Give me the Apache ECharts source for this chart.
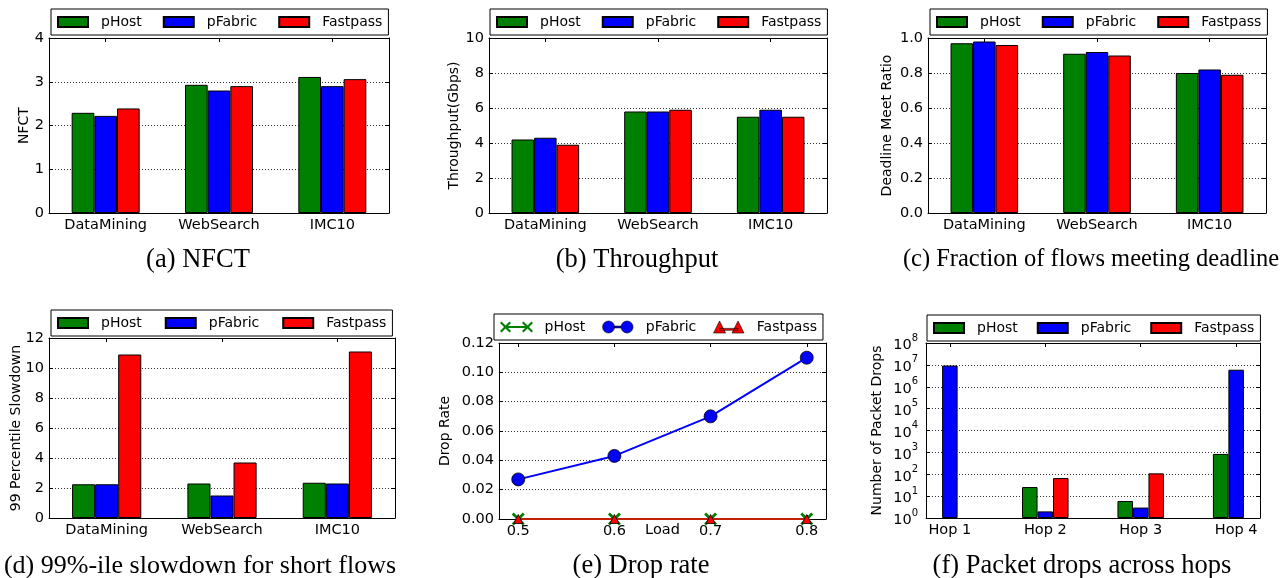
<!DOCTYPE html>
<html>
<head>
<meta charset="utf-8">
<script src="https://cdn.jsdelivr.net/npm/echarts@6/dist/echarts.min.js"></script>
<style>
  html, body { margin: 0; padding: 0; background: #fff; }
  #wrap { position: relative; width: 1283px; height: 578px; }
  .panel { position: absolute; }
</style>
</head>
<body>
<div id="wrap">
  <div class="panel" id="pa" style="left:0;top:0;width:430px;height:290px"></div>
  <div class="panel" id="pb" style="left:430px;top:0;width:430px;height:290px"></div>
  <div class="panel" id="pc" style="left:860px;top:0;width:423px;height:290px"></div>
  <div class="panel" id="pd" style="left:0;top:290px;width:430px;height:288px"></div>
  <div class="panel" id="pe" style="left:430px;top:290px;width:430px;height:288px"></div>
  <div class="panel" id="pf" style="left:860px;top:290px;width:423px;height:288px"></div>
</div>
<script>
const schemes = ['pHost', 'pFabric', 'Fastpass']
const workloads = ['DataMining', 'WebSearch', 'IMC10']

// (a) NFCT
const nfctPHost = [2.29, 2.93, 3.11]
const nfctPFabric = [2.22, 2.80, 2.90]
const nfctFastpass = [2.39, 2.90, 3.06]

// (b) throughput, Gbps
const tputPHost = [4.2, 5.8, 5.5]
const tputPFabric = [4.3, 5.8, 5.9]
const tputFastpass = [3.9, 5.9, 5.5]

// (c) deadline meet ratio
const ddlPHost = [0.97, 0.91, 0.80]
const ddlPFabric = [0.98, 0.92, 0.82]
const ddlFastpass = [0.96, 0.90, 0.79]

// (d) 99th percentile slowdown, short flows
const slowPHost = [2.25, 2.3, 2.35]
const slowPFabric = [2.25, 1.5, 2.3]
const slowFastpass = [10.9, 3.7, 11.1]

// (e) drop rate vs load
const loads = [0.5, 0.6, 0.7, 0.8]
const dropPHost = [0, 0, 0, 0]
const dropPFabric = [0.027, 0.043, 0.07, 0.11]
const dropFastpass = [0, 0, 0, 0]

// (f) packet drops per hop (null -> no bar on the log axis)
const hops = ['Hop 1', 'Hop 2', 'Hop 3', 'Hop 4']
const hopPHost = [null, 26, 6, 850]
const hopPFabric = [9.3e6, 2, 3, 6.0e6]
const hopFastpass = [null, 67, 110, null]

const colors = ['#008000', '#0000ff', '#ff0000']
const FONT = 'DejaVu Sans'
const BLACK = '#000'
const TICK_FS = 14.5

const tickStyle = { show: true, inside: true, length: 4, lineStyle: { color: BLACK } }
const lineBlack = { show: true, onZero: false, lineStyle: { color: BLACK, width: 1 } }
const gridLine = { show: true, lineStyle: { color: '#333', width: 1, type: [1, 2] } }

function legendOpt(left, top, gap, extra) {
  return Object.assign({
    left: left,
    top: top,
    itemGap: gap,
    itemWidth: 30,
    itemHeight: 10,
    icon: 'rect',
    padding: [6, 6],
    borderColor: BLACK,
    borderWidth: 1,
    borderRadius: 0,
    backgroundColor: '#fff',
    selectedMode: false,
    textStyle: { fontFamily: FONT, fontSize: 14, color: BLACK, padding: [0, 0, 0, 8] }
  }, extra || {})
}

function caption(x, y, text, size) {
  return [{
    type: 'text', x: x, y: y,
    style: {
      text: text, fontFamily: 'Liberation Serif', fontSize: size || 26.5, fill: BLACK,
      align: 'center', verticalAlign: 'middle'
    }
  }]
}

function yAxes(cfg) {
  const base = { type: 'value', min: 0, max: cfg.max, interval: cfg.step }
  return [
    Object.assign({}, base, {
      name: cfg.yName, nameLocation: 'middle', nameGap: cfg.nameGap, nameMoveOverlap: false,
      nameTextStyle: { fontFamily: FONT, fontSize: 14, color: BLACK },
      axisLine: lineBlack, axisTick: tickStyle,
      axisLabel: { color: BLACK, fontSize: TICK_FS, fontFamily: FONT, margin: 5, formatter: v => v.toFixed(cfg.digits) },
      splitLine: gridLine
    }),
    Object.assign({}, base, {
      position: 'right', axisLine: lineBlack, axisTick: tickStyle,
      axisLabel: { show: false }, splitLine: { show: false }
    })
  ]
}

function barPanel(id, cfg) {
  const chart = echarts.init(document.getElementById(id))
  chart.setOption({
    animation: false,
    textStyle: { fontFamily: FONT },
    legend: legendOpt(cfg.legend[0], cfg.legend[1], cfg.legend[2]),
    grid: cfg.grid,
    xAxis: [
      {
        type: 'category', data: workloads,
        axisLine: lineBlack,
        axisTick: Object.assign({ alignWithLabel: true }, tickStyle),
        axisLabel: { color: BLACK, fontSize: TICK_FS, fontFamily: FONT, margin: 5 }
      },
      {
        type: 'category', data: workloads, position: 'top',
        axisLine: lineBlack,
        axisTick: Object.assign({ alignWithLabel: true }, tickStyle),
        axisLabel: { show: false }
      }
    ],
    yAxis: yAxes(cfg),
    series: cfg.values.map((vals, i) => ({
      type: 'bar', name: schemes[i], data: vals,
      barGap: '0%', barCategoryGap: '40%',
      itemStyle: { color: colors[i], borderColor: BLACK, borderWidth: 1 }
    })),
    graphic: caption(cfg.caption[0], cfg.caption[1], cfg.caption[2], cfg.caption[3])
  })
}

barPanel('pa', {
  grid: { left: 49, top: 38, width: 340, height: 175 },
  legend: [51, 9, 21],
  max: 4, step: 1, digits: 0, yName: 'NFCT', nameGap: 18,
  values: [nfctPHost, nfctPFabric, nfctFastpass],
  caption: [198, 260, '(a) NFCT']
})

barPanel('pb', {
  grid: { left: 59, top: 38, width: 338, height: 175 },
  legend: [60, 9, 21],
  max: 10, step: 2, digits: 0, yName: 'Throughput(Gbps)', nameGap: 28,
  values: [tputPHost, tputPFabric, tputFastpass],
  caption: [207, 260, '(b) Throughput']
})

barPanel('pc', {
  grid: { left: 68, top: 38, width: 338, height: 175 },
  legend: [70, 9, 21],
  max: 1, step: 0.2, digits: 1, yName: 'Deadline Meet Ratio', nameGap: 34,
  values: [ddlPHost, ddlPFabric, ddlFastpass],
  caption: [231, 260, '(c) Fraction of flows meeting deadline', 24.5]
})

barPanel('pd', {
  grid: { left: 49, top: 48, width: 346, height: 180 },
  legend: [51, 20, 23],
  max: 12, step: 2, digits: 0, yName: '99 Percentile Slowdown', nameGap: 26,
  values: [slowPHost, slowPFabric, slowFastpass],
  caption: [200, 276, '(d) 99%-ile slowdown for short flows', 26]
})

// (e) drop rate, line chart on a value x axis
const xMarker = 'path://M0,2L2,0L6.5,4.5L11,0L13,2L8.5,6.5L13,11L11,13L6.5,8.5L2,13L0,11L4.5,6.5Z'
const lineIcons = [
  'path://M0,1.5L1.5,0L5.5,4L9.5,0L11,1.5L7,5.5L11,9.5L9.5,11L5.5,7L1.5,11L0,9.5L4,5.5Z' +
    'M22,1.5L23.5,0L27.5,4L31.5,0L33,1.5L29,5.5L33,9.5L31.5,11L27.5,7L23.5,11L22,9.5L26,5.5Z' +
    'M5.5,4.5L27.5,4.5L27.5,6.5L5.5,6.5Z',
  'path://M0,6.5a6.5,6.5 0 1,1 13,0a6.5,6.5 0 1,1 -13,0Z' +
    'M20,6.5a6.5,6.5 0 1,1 13,0a6.5,6.5 0 1,1 -13,0Z' +
    'M13,5.5L20,5.5L20,7.5L13,7.5Z',
  'path://M0,13L6.5,0L13,13Z M20,13L26.5,0L33,13Z M6.5,8L26.5,8L26.5,10L6.5,10Z'
]

const chartE = echarts.init(document.getElementById('pe'))
const dropSets = [dropPHost, dropPFabric, dropFastpass]
chartE.setOption({
  animation: false,
  textStyle: { fontFamily: FONT },
  legend: legendOpt(64, 24, 17, {
    itemWidth: 33, itemHeight: 12,
    textStyle: { fontFamily: FONT, fontSize: 14, color: BLACK, padding: [0, 0, 0, 6.5] },
    data: schemes.map((s, i) => ({
      name: s, icon: lineIcons[i],
      itemStyle: { borderWidth: i === 0 ? 0 : 0.6, borderColor: BLACK }
    }))
  }),
  grid: { left: 63, top: 53, width: 333, height: 176 },
  xAxis: [
    {
      type: 'value', min: 0.48, max: 0.82,
      name: 'Load', nameLocation: 'middle', nameGap: 4, nameMoveOverlap: false,
      nameTextStyle: { fontFamily: FONT, fontSize: TICK_FS, color: BLACK, verticalAlign: 'top' },
      axisLine: lineBlack,
      axisTick: Object.assign({ customValues: loads }, tickStyle),
      axisLabel: { customValues: loads, color: BLACK, fontSize: TICK_FS, fontFamily: FONT, margin: 5, formatter: v => v.toFixed(1) },
      splitLine: { show: false }
    },
    {
      type: 'value', min: 0.48, max: 0.82, position: 'top',
      axisLine: lineBlack,
      axisTick: Object.assign({ customValues: loads }, tickStyle),
      axisLabel: { show: false }, splitLine: { show: false }
    }
  ],
  yAxis: yAxes({ max: 0.12, step: 0.02, digits: 2, yName: 'Drop Rate', nameGap: 47 }),
  series: [
    {
      type: 'line', name: 'pHost', data: loads.map((x, k) => [x, dropSets[0][k]]),
      symbol: xMarker, symbolSize: 13, clip: false,
      lineStyle: { color: colors[0], width: 2 },
      itemStyle: { color: colors[0], borderWidth: 0 }
    },
    {
      type: 'line', name: 'pFabric', data: loads.map((x, k) => [x, dropSets[1][k]]),
      symbol: 'circle', symbolSize: 13, clip: false,
      lineStyle: { color: colors[1], width: 2 },
      itemStyle: { color: colors[1], borderColor: BLACK, borderWidth: 0.8 }
    },
    {
      type: 'line', name: 'Fastpass', data: loads.map((x, k) => [x, dropSets[2][k]]),
      symbol: 'triangle', symbolSize: 9, clip: false,
      lineStyle: { color: colors[2], width: 1.5 },
      itemStyle: { color: colors[2], borderColor: BLACK, borderWidth: 0.8 }
    }
  ],
  graphic: caption(211, 276, '(e) Drop rate')
})

// (f) packet drops, log y axis
const chartF = echarts.init(document.getElementById('pf'))
const hopSets = [hopPHost, hopPFabric, hopFastpass]
const hopIdx = hops.map((h, k) => k)
const logLabel = {
  color: BLACK, fontFamily: FONT, margin: 8,
  formatter: v => '{b|10}{s|' + Math.round(Math.log10(v)) + '}',
  rich: {
    b: { fontSize: TICK_FS, fontFamily: FONT, color: BLACK, lineHeight: 20, verticalAlign: 'bottom' },
    s: { fontSize: 10, fontFamily: FONT, color: BLACK, lineHeight: 20, verticalAlign: 'top' }
  }
}
chartF.setOption({
  animation: false,
  textStyle: { fontFamily: FONT },
  legend: legendOpt(67, 25, 19),
  grid: { left: 66, top: 53, width: 334, height: 175 },
  xAxis: [
    {
      type: 'value', min: -0.25, max: 3.25,
      axisLine: lineBlack,
      axisTick: Object.assign({ customValues: hopIdx }, tickStyle),
      axisLabel: { customValues: hopIdx, color: BLACK, fontSize: TICK_FS, fontFamily: FONT, margin: 5, formatter: v => hops[Math.round(v)] },
      splitLine: { show: false }
    },
    {
      type: 'value', min: -0.25, max: 3.25, position: 'top',
      axisLine: lineBlack,
      axisTick: Object.assign({ customValues: hopIdx }, tickStyle),
      axisLabel: { show: false }, splitLine: { show: false }
    }
  ],
  yAxis: [
    {
      type: 'log', logBase: 10, min: 1, max: 1e8,
      name: 'Number of Packet Drops', nameLocation: 'middle', nameGap: 42, nameMoveOverlap: false,
      nameTextStyle: { fontFamily: FONT, fontSize: 14, color: BLACK },
      axisLine: lineBlack, axisTick: tickStyle,
      axisLabel: logLabel,
      splitLine: gridLine
    },
    {
      type: 'log', logBase: 10, min: 1, max: 1e8, position: 'right',
      axisLine: lineBlack, axisTick: tickStyle,
      axisLabel: { show: false }, splitLine: { show: false }
    }
  ],
  series: hopSets.map((vals, i) => ({
    type: 'bar', name: schemes[i],
    // skip hops without a drawn bar
    data: hopIdx.filter(k => vals[k] != null).map(k => [k, vals[k]]),
    barWidth: 15.5, barGap: '0%',
    itemStyle: { color: colors[i], borderColor: BLACK, borderWidth: 1 }
  })),
  graphic: caption(222, 276, '(f) Packet drops across hops')
})
</script>
</body>
</html>
